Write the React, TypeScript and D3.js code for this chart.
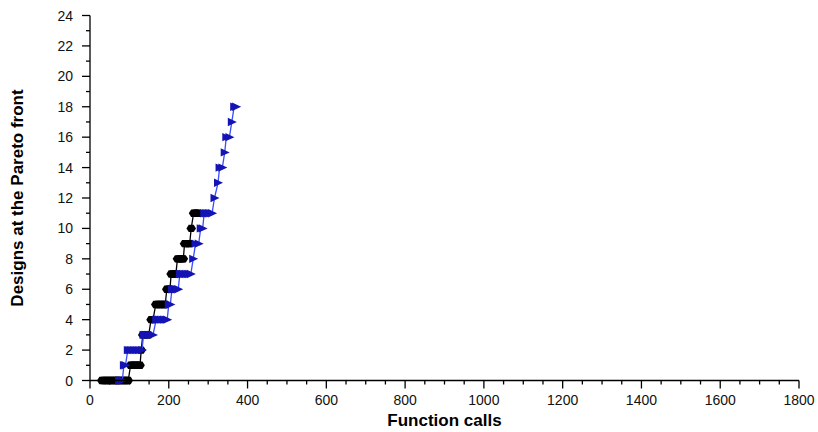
import React from "react";
import * as d3 from "d3";

// Series A (black hexagons): function calls vs designs at the Pareto front
const blackCalls = [
  30, 34, 38, 42, 46, 50, 54, 58, 62, 66, 70, 74, 78, 82, 86, 90, 94, 97,
  103, 107, 111, 115, 119, 123, 127,
  130,
  134, 139, 144, 149,
  155, 160,
  167, 171, 175, 179, 183, 187, 191,
  195, 199, 203,
  206, 210, 214, 218,
  222, 226, 230, 234, 237,
  240, 245, 250, 253,
  257,
  263, 267, 271, 275,
];
const blackDesigns = [
  0, 0, 0, 0, 0, 0, 0, 0, 0, 0, 0, 0, 0, 0, 0, 0, 0, 0,
  1, 1, 1, 1, 1, 1, 1,
  2,
  3, 3, 3, 3,
  4, 4,
  5, 5, 5, 5, 5, 5, 5,
  6, 6, 6,
  7, 7, 7, 7,
  8, 8, 8, 8, 8,
  9, 9, 9, 9,
  10,
  11, 11, 11, 11,
];

// Series B (blue triangles)
const blueCalls = [
  74, 78, 82,
  86, 90,
  96, 100, 104, 108, 112, 116, 120, 124, 128, 132,
  136, 140, 144, 148, 152, 156, 160,
  168, 172, 176, 180, 184, 188, 192, 196,
  200, 204,
  208, 212, 216, 220, 224,
  228, 232, 236, 240, 244, 248, 252, 256,
  262,
  268, 276,
  281, 286,
  290, 294, 298, 302, 306, 310,
  316,
  325,
  329, 336,
  342,
  346, 354,
  360,
  366, 371,
];
const blueDesigns = [
  0, 0, 0,
  1, 1,
  2, 2, 2, 2, 2, 2, 2, 2, 2, 2,
  3, 3, 3, 3, 3, 3, 3,
  4, 4, 4, 4, 4, 4, 4, 4,
  5, 5,
  6, 6, 6, 6, 6,
  7, 7, 7, 7, 7, 7, 7, 7,
  8,
  9, 9,
  10, 10,
  11, 11, 11, 11, 11, 11,
  12,
  13,
  14, 14,
  15,
  16, 16,
  17,
  18, 18,
];

const xMajorTicks = [0, 200, 400, 600, 800, 1000, 1200, 1400, 1600, 1800];
const yMajorTicks = [0, 2, 4, 6, 8, 10, 12, 14, 16, 18, 20, 22, 24];

const W = 818;
const H = 432;
const left = 90;
const right = 799;
const top = 15.5;
const bottom = 380.5;
const FONT = "'Liberation Sans', Arial, Helvetica, sans-serif";

export default function App() {
  const x = d3.scaleLinear().domain([0, 1800]).range([left, right]);
  const y = d3.scaleLinear().domain([0, 24]).range([bottom, top]);

  const xMinor = d3.range(0, 1801, 50).filter((v) => v % 200 !== 0);
  const yMinor = d3.range(0, 25, 1).filter((v) => v % 2 !== 0);

  const line = d3
    .line<[number, number]>()
    .x((d) => x(d[0]))
    .y((d) => y(d[1]));

  const black: [number, number][] = blackCalls.map((c, i) => [c, blackDesigns[i]]);
  const blue: [number, number][] = blueCalls.map((c, i) => [c, blueDesigns[i]]);

  const hex = "M-4.8,0 L-2.5,-3.7 L2.5,-3.7 L4.8,0 L2.5,3.7 L-2.5,3.7 Z";
  const tri = "M-4,-4.2 L5,0 L-4,4.2 Z";

  return (
    <svg
      width={W}
      height={H}
      style={{ position: "absolute", left: 0, top: 0, background: "#fff" }}
    >
      <rect x={0} y={0} width={W} height={H} fill="#fff" />
      {/* series A */}
      <path d={line(black) || ""} fill="none" stroke="#000" strokeWidth={1.3} />
      {black.map((d, i) => (
        <path key={"b" + i} d={hex} transform={`translate(${x(d[0])},${y(d[1])})`} fill="#000" />
      ))}
      {/* series B */}
      <path d={line(blue) || ""} fill="none" stroke="#3a4dff" strokeWidth={1.3} />
      {blue.map((d, i) => (
        <path key={"t" + i} d={tri} transform={`translate(${x(d[0])},${y(d[1])})`} fill="#1414b4" />
      ))}

      {/* axes */}
      <g stroke="#000" strokeWidth={1.3} fill="none">
        <line x1={left} x2={left} y1={top} y2={bottom} />
        <line x1={left} x2={right} y1={bottom} y2={bottom} />
        {yMajorTicks.map((v) => (
          <line key={"ym" + v} x1={left - 8} x2={left} y1={y(v)} y2={y(v)} />
        ))}
        {yMinor.map((v) => (
          <line key={"yn" + v} x1={left - 4} x2={left} y1={y(v)} y2={y(v)} />
        ))}
        {xMajorTicks.map((v) => (
          <line key={"xm" + v} x1={x(v)} x2={x(v)} y1={bottom} y2={bottom + 8} />
        ))}
        {xMinor.map((v) => (
          <line key={"xn" + v} x1={x(v)} x2={x(v)} y1={bottom} y2={bottom + 4} />
        ))}
      </g>
      <g fontFamily={FONT} fontSize={14} fill="#111">
        {yMajorTicks.map((v) => (
          <text key={"yl" + v} x={73} y={y(v) + 5} textAnchor="end">
            {v}
          </text>
        ))}
        {xMajorTicks.map((v) => (
          <text key={"xl" + v} x={x(v)} y={405} textAnchor="middle">
            {v}
          </text>
        ))}
      </g>
      <text
        x={(left + right) / 2}
        y={426}
        textAnchor="middle"
        fontFamily={FONT}
        fontWeight="bold"
        fontSize={17}
        fill="#000"
      >
        Function calls
      </text>
      <text
        transform={`translate(23,${(top + bottom) / 2}) rotate(-90)`}
        textAnchor="middle"
        fontFamily={FONT}
        fontWeight="bold"
        fontSize={17}
        fill="#000"
      >
        Designs at the Pareto front
      </text>
    </svg>
  );
}
